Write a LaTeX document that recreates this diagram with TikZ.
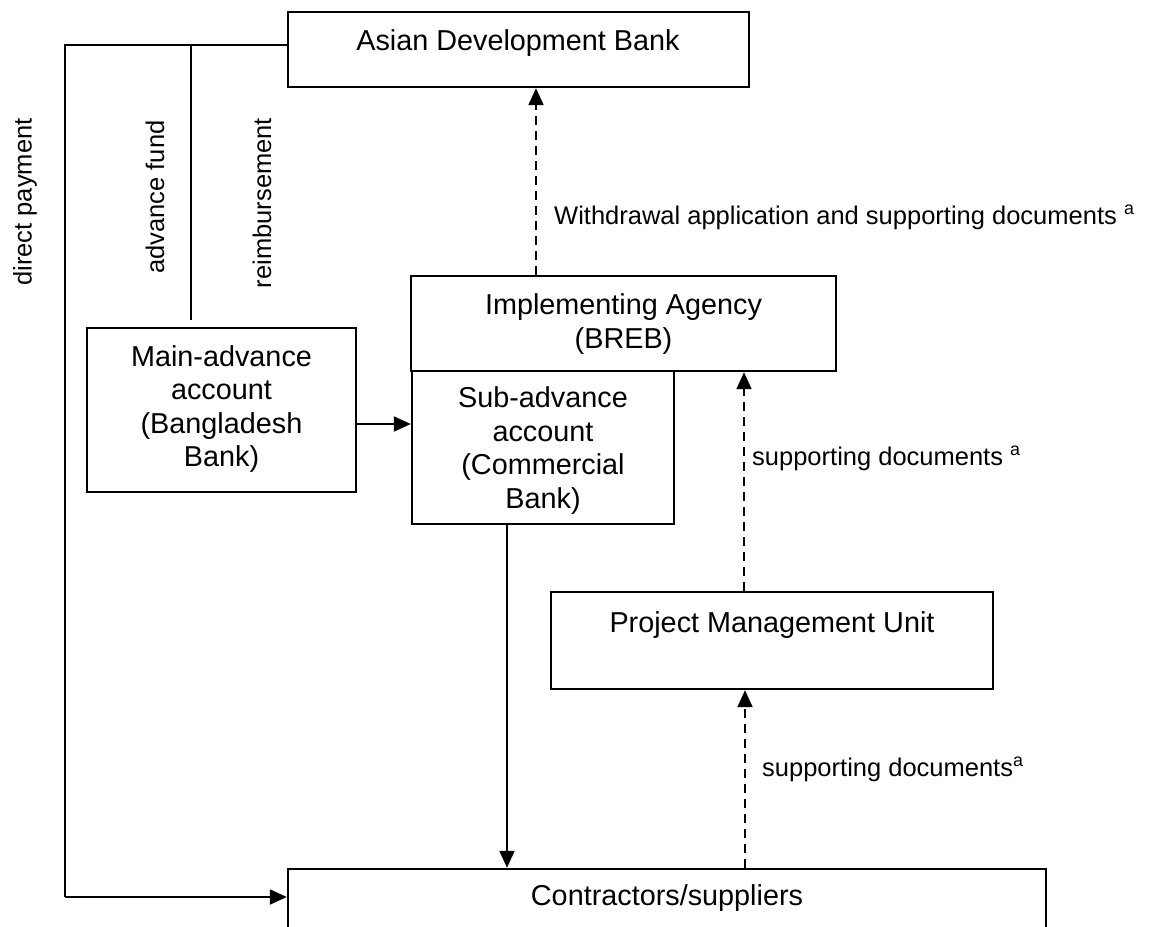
\documentclass[tikz,border=0pt]{standalone}
\usepackage{fontspec}
\setmainfont{Liberation Sans}
\usetikzlibrary{arrows.meta}
\begin{document}
\begin{tikzpicture}[x=1pt,y=-1pt,
  box/.style={draw, line width=2.4pt, inner sep=0pt},
  boxtext/.style={font=\fontsize{28.8}{33.5}\selectfont, align=center, inner sep=0pt},
  lbl/.style={font=\fontsize{25.5}{30}\selectfont, inner sep=0pt, anchor=base west},
  rlbl/.style={font=\fontsize{25.5}{30}\selectfont, inner sep=0pt, rotate=90},
  wire/.style={line width=1.4pt},
  arr/.style={line width=2pt, -{Triangle[length=17pt,width=15pt]}},
  darr/.style={line width=2pt, dash pattern=on 9pt off 6pt, -{Triangle[length=17pt,width=15pt]}},
]
\clip (0,0) rectangle (1153,926);

% boxes
\node[box, minimum width=461pt, minimum height=75pt]  (adb)  at (518.5,49.5) {};
\node[box, minimum width=425pt, minimum height=95pt]  (ia)   at (623.5,323.5) {};
\node[box, minimum width=269pt, minimum height=164pt] (main) at (221.5,410) {};
\node[box, minimum width=262pt, minimum height=153pt] (sub)  at (543,447.5) {};
\node[box, minimum width=442pt, minimum height=97pt]  (pmu)  at (772,640.5) {};
\node[box, minimum width=758pt, minimum height=121pt] (con)  at (667,929.5) {};

% box texts
\node[boxtext, anchor=base] (adbt) at (518,50) {Asian Development Bank};
\node[boxtext] (iat) at (623.5,324) {Implementing Agency\\(BREB)};
\node[boxtext] (maint) at (221.5,409) {Main-advance\\account\\(Bangladesh\\Bank)};
\node[boxtext] (subt) at (543,450.5) {Sub-advance\\account\\(Commercial\\Bank)};
\node[boxtext, anchor=base] (pmut) at (772,632) {Project Management Unit};
\node[boxtext, anchor=base] (cont) at (667,905) {Contractors/suppliers};

% flow labels
\node[lbl] (wdl) at (554,224) {Withdrawal application and supporting documents \textsuperscript{a}};
\node[lbl] (sd1) at (752,465) {supporting documents \textsuperscript{a}};
\node[lbl] (sd2) at (762,776) {supporting documents\textsuperscript{a}};
\node[rlbl] (ldp) at (25,202) {direct payment};
\node[rlbl] (laf) at (155,197) {advance fund};
\node[rlbl] (lrb) at (262,203) {reimbursement};

% fund flows
\coordinate (tap) at (65,45);
\coordinate (dp) at (65,897);
\coordinate (af) at (191,320);
\draw[wire] (adb.west |- tap) -- (tap) -- (dp);
\draw[arr] (dp) -- (con.west |- dp);
\draw[wire] (af |- tap) -- (af);
\draw[arr] (main.east |- 0,424) -- (sub.west |- 0,424);
\draw[arr] (sub.south -| 507,0) -- (con.north -| 507,0);

% document flows
\draw[darr] (ia.north -| 536,0) -- (adb.south -| 536,0);
\draw[darr] (pmu.north -| 744,0) -- (ia.south -| 744,0);
\draw[darr] (con.north -| 745,0) -- (pmu.south -| 745,0);
\end{tikzpicture}
\end{document}
